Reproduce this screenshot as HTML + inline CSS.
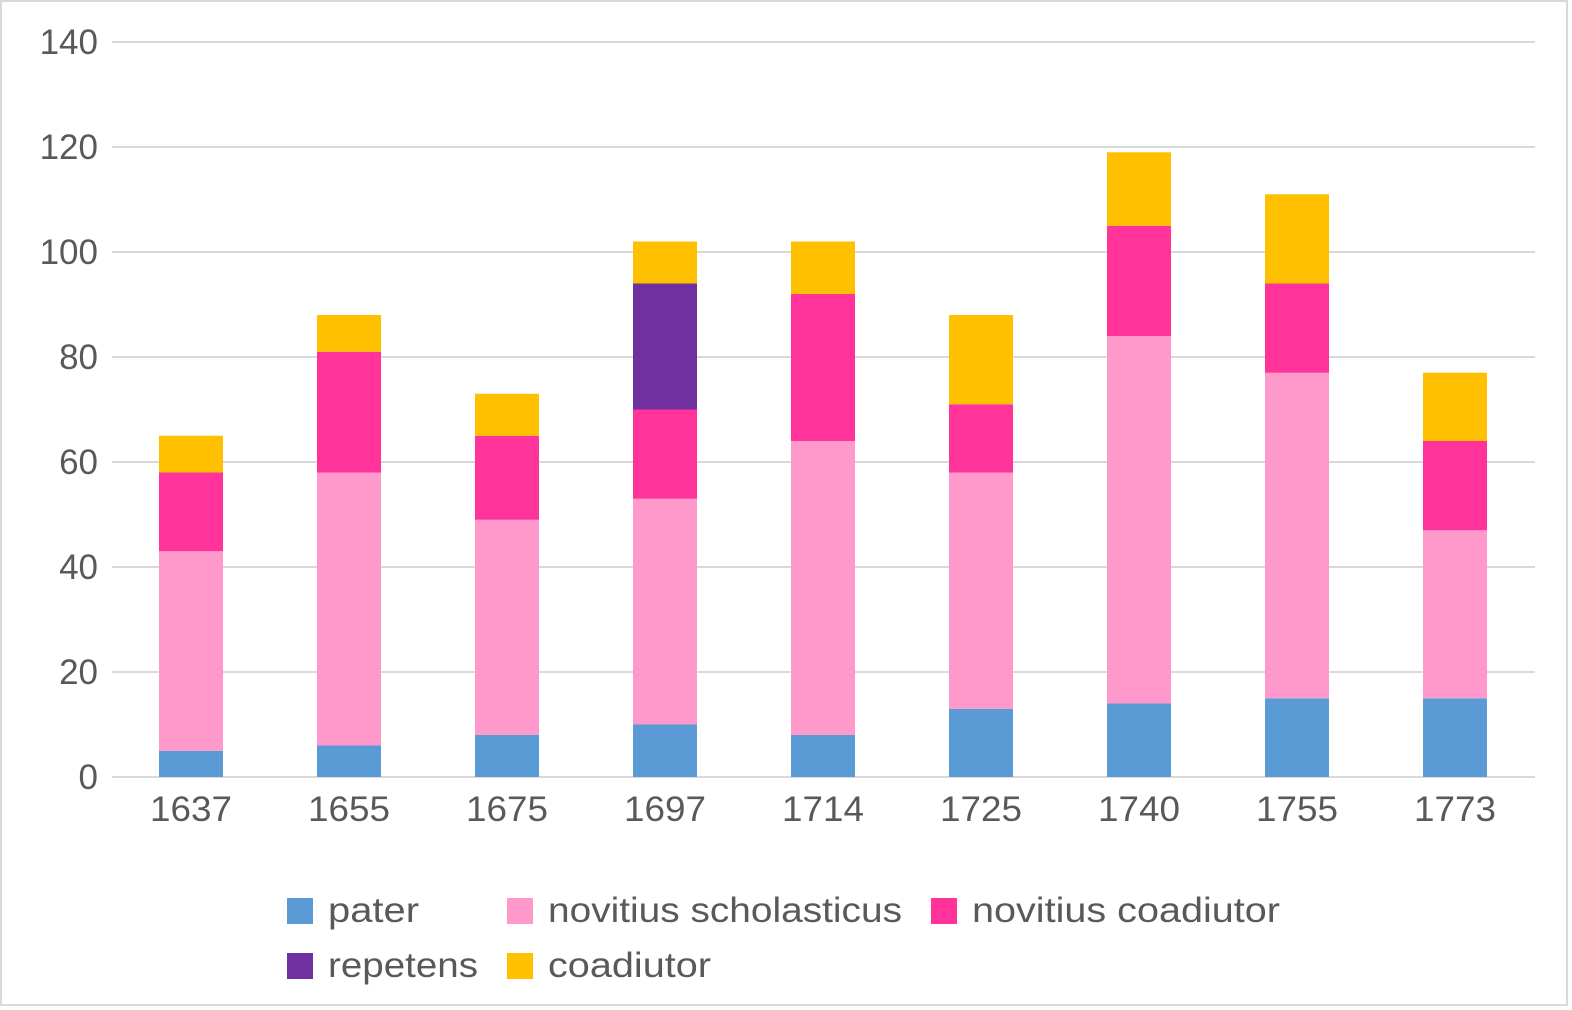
<!DOCTYPE html>
<html><head><meta charset="utf-8"><style>
body{margin:0;background:#fff}
svg{display:block}
text{font-family:"Liberation Sans",sans-serif;fill:#595959}
</style></head><body>
<svg width="1572" height="1010" viewBox="0 0 1572 1010" xmlns="http://www.w3.org/2000/svg">
<rect x="1" y="1" width="1566" height="1004" fill="#fff" stroke="#d9d9d9" stroke-width="2"/>
<g stroke="#d9d9d9" stroke-width="2">
<line x1="112" y1="42" x2="1535" y2="42"/>
<line x1="112" y1="147" x2="1535" y2="147"/>
<line x1="112" y1="252" x2="1535" y2="252"/>
<line x1="112" y1="357" x2="1535" y2="357"/>
<line x1="112" y1="462" x2="1535" y2="462"/>
<line x1="112" y1="567" x2="1535" y2="567"/>
<line x1="112" y1="672" x2="1535" y2="672"/>
<line x1="112" y1="777" x2="1535" y2="777"/>
</g>
<g font-size="35" text-anchor="end">
<text x="98" y="54">140</text>
<text x="98" y="159">120</text>
<text x="98" y="264">100</text>
<text x="98" y="369">80</text>
<text x="98" y="474">60</text>
<text x="98" y="579">40</text>
<text x="98" y="684">20</text>
<text x="98" y="789">0</text>
</g>
<g>
<rect x="159" y="750.75" width="64" height="26.25" fill="#5B9BD5"/>
<rect x="159" y="551.25" width="64" height="199.5" fill="#FF99CC"/>
<rect x="159" y="472.5" width="64" height="78.75" fill="#FF3399"/>
<rect x="159" y="435.75" width="64" height="36.75" fill="#FFC000"/>
<rect x="317" y="745.5" width="64" height="31.5" fill="#5B9BD5"/>
<rect x="317" y="472.5" width="64" height="273" fill="#FF99CC"/>
<rect x="317" y="351.75" width="64" height="120.75" fill="#FF3399"/>
<rect x="317" y="315" width="64" height="36.75" fill="#FFC000"/>
<rect x="475" y="735" width="64" height="42" fill="#5B9BD5"/>
<rect x="475" y="519.75" width="64" height="215.25" fill="#FF99CC"/>
<rect x="475" y="435.75" width="64" height="84" fill="#FF3399"/>
<rect x="475" y="393.75" width="64" height="42" fill="#FFC000"/>
<rect x="633" y="724.5" width="64" height="52.5" fill="#5B9BD5"/>
<rect x="633" y="498.75" width="64" height="225.75" fill="#FF99CC"/>
<rect x="633" y="409.5" width="64" height="89.25" fill="#FF3399"/>
<rect x="633" y="283.5" width="64" height="126" fill="#7030A0"/>
<rect x="633" y="241.5" width="64" height="42" fill="#FFC000"/>
<rect x="791" y="735" width="64" height="42" fill="#5B9BD5"/>
<rect x="791" y="441" width="64" height="294" fill="#FF99CC"/>
<rect x="791" y="294" width="64" height="147" fill="#FF3399"/>
<rect x="791" y="241.5" width="64" height="52.5" fill="#FFC000"/>
<rect x="949" y="708.75" width="64" height="68.25" fill="#5B9BD5"/>
<rect x="949" y="472.5" width="64" height="236.25" fill="#FF99CC"/>
<rect x="949" y="404.25" width="64" height="68.25" fill="#FF3399"/>
<rect x="949" y="315" width="64" height="89.25" fill="#FFC000"/>
<rect x="1107" y="703.5" width="64" height="73.5" fill="#5B9BD5"/>
<rect x="1107" y="336" width="64" height="367.5" fill="#FF99CC"/>
<rect x="1107" y="225.75" width="64" height="110.25" fill="#FF3399"/>
<rect x="1107" y="152.25" width="64" height="73.5" fill="#FFC000"/>
<rect x="1265" y="698.25" width="64" height="78.75" fill="#5B9BD5"/>
<rect x="1265" y="372.75" width="64" height="325.5" fill="#FF99CC"/>
<rect x="1265" y="283.5" width="64" height="89.25" fill="#FF3399"/>
<rect x="1265" y="194.25" width="64" height="89.25" fill="#FFC000"/>
<rect x="1423" y="698.25" width="64" height="78.75" fill="#5B9BD5"/>
<rect x="1423" y="530.25" width="64" height="168" fill="#FF99CC"/>
<rect x="1423" y="441" width="64" height="89.25" fill="#FF3399"/>
<rect x="1423" y="372.75" width="64" height="68.25" fill="#FFC000"/>
</g>
<g font-size="35" text-anchor="middle">
<text x="191" y="821" textLength="82" lengthAdjust="spacingAndGlyphs">1637</text>
<text x="349" y="821" textLength="82" lengthAdjust="spacingAndGlyphs">1655</text>
<text x="507" y="821" textLength="82" lengthAdjust="spacingAndGlyphs">1675</text>
<text x="665" y="821" textLength="82" lengthAdjust="spacingAndGlyphs">1697</text>
<text x="823" y="821" textLength="82" lengthAdjust="spacingAndGlyphs">1714</text>
<text x="981" y="821" textLength="82" lengthAdjust="spacingAndGlyphs">1725</text>
<text x="1139" y="821" textLength="82" lengthAdjust="spacingAndGlyphs">1740</text>
<text x="1297" y="821" textLength="82" lengthAdjust="spacingAndGlyphs">1755</text>
<text x="1455" y="821" textLength="82" lengthAdjust="spacingAndGlyphs">1773</text>
</g>
<g font-size="35">
<rect x="287" y="898" width="26" height="26" fill="#5B9BD5"/><text x="328" y="922" textLength="91" lengthAdjust="spacingAndGlyphs">pater</text>
<rect x="507" y="898" width="26" height="26" fill="#FF99CC"/><text x="548" y="922" textLength="354" lengthAdjust="spacingAndGlyphs">novitius scholasticus</text>
<rect x="931" y="898" width="26" height="26" fill="#FF3399"/><text x="972" y="922" textLength="308" lengthAdjust="spacingAndGlyphs">novitius coadiutor</text>
<rect x="287" y="953" width="26" height="26" fill="#7030A0"/><text x="328" y="977" textLength="150" lengthAdjust="spacingAndGlyphs">repetens</text>
<rect x="507" y="953" width="26" height="26" fill="#FFC000"/><text x="548" y="977" textLength="163" lengthAdjust="spacingAndGlyphs">coadiutor</text>
</g>
</svg>
</body></html>
